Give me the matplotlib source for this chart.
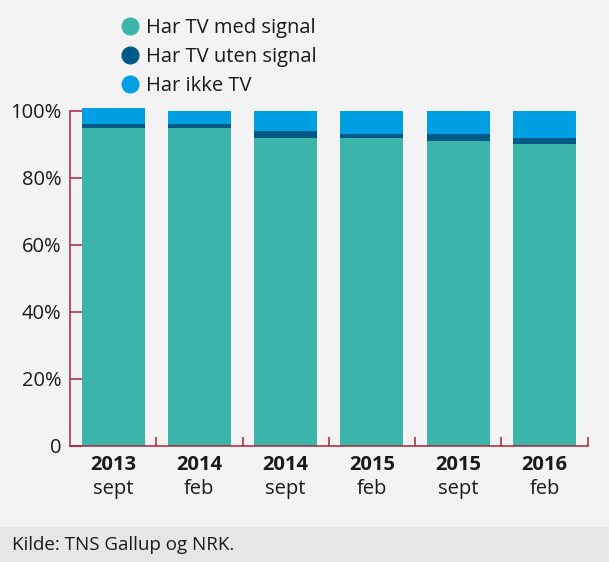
import matplotlib
matplotlib.use("Agg")
import matplotlib.pyplot as plt
import numpy as np
from matplotlib.lines import Line2D
from matplotlib.patches import Rectangle

plt.rcParams['font.family'] = ['Open Sans', 'DejaVu Sans']

years = ["2013", "2014", "2014", "2015", "2015", "2016"]
months = ["sept", "feb", "sept", "feb", "sept", "feb"]
med_signal = [95, 95, 92, 92, 91, 90]
uten_signal = [1, 1, 2, 1, 2, 2]
ikke_tv = [5, 4, 6, 7, 7, 8]
series_names = ["Har TV med signal", "Har TV uten signal", "Har ikke TV"]
colors = ["#3bb5aa", "#005a87", "#009fe3"]
axis_red = "#a8243c"
bg = "#f3f3f3"

fig = plt.figure(figsize=(6.09, 5.62), dpi=100, facecolor=bg)
ax = fig.add_axes([70 / 609, 1 - 445.5 / 562, (587.6 - 70) / 609, (445.5 - 111) / 562])
ax.set_facecolor(bg)

x = np.arange(len(years))
w = 0.73
bottom = np.zeros(len(x))
for vals, c in zip([med_signal, uten_signal, ikke_tv], colors):
    ax.bar(x, vals, w, bottom=bottom, color=c, linewidth=0, clip_on=False, zorder=1)
    bottom += np.array(vals)

ax.set_xlim(-0.5, len(x) - 0.5)
ax.set_ylim(0, 100)
ax.set_yticks([0, 20, 40, 60, 80, 100])
ax.set_yticklabels(["0", "20%", "40%", "60%", "80%", "100%"])
ax.set_xticks(list(x + 0.5))
ax.set_xticklabels([])
ax.tick_params(axis='y', direction='in', length=8.6, width=1.1, color=axis_red,
               labelsize=14.5, pad=6, labelcolor="#1a1a1a")
ax.tick_params(axis='x', direction='in', length=6.5, width=1.1, color=axis_red)
for s in ["top", "right"]:
    ax.spines[s].set_visible(False)
for s in ["left", "bottom"]:
    ax.spines[s].set_color(axis_red)
    ax.spines[s].set_linewidth(1.1)

tr = ax.get_xaxis_transform()
for i in x:
    ax.text(i, -0.058, years[i], transform=tr, ha='center', va='center',
            fontsize=14.5, fontweight='bold', color="#1a1a1a")
    ax.text(i, -0.131, months[i], transform=tr, ha='center', va='center',
            fontsize=14.5, color="#1a1a1a")

# legend
for k, (name, c) in enumerate(zip(series_names, colors)):
    yy = 1 - (26 + 29 * k) / 562
    fig.add_artist(Line2D([130 / 609], [yy], marker='o', markersize=12,
                          color=c, linestyle='none', transform=fig.transFigure))
    fig.text(146 / 609, yy - 2 / 562, name, ha='left', va='center', fontsize=14.5,
             color="#1a1a1a")

# footer
fig.add_artist(Rectangle((0, 0), 1, 35 / 562, transform=fig.transFigure,
                         facecolor="#e6e6e4", edgecolor='none', zorder=0))
fig.text(12 / 609, 17 / 562, "Kilde: TNS Gallup og NRK.", ha='left', va='center',
         fontsize=13.5, color="#1a1a1a")

fig.savefig("out.png", dpi=100, facecolor=bg)
